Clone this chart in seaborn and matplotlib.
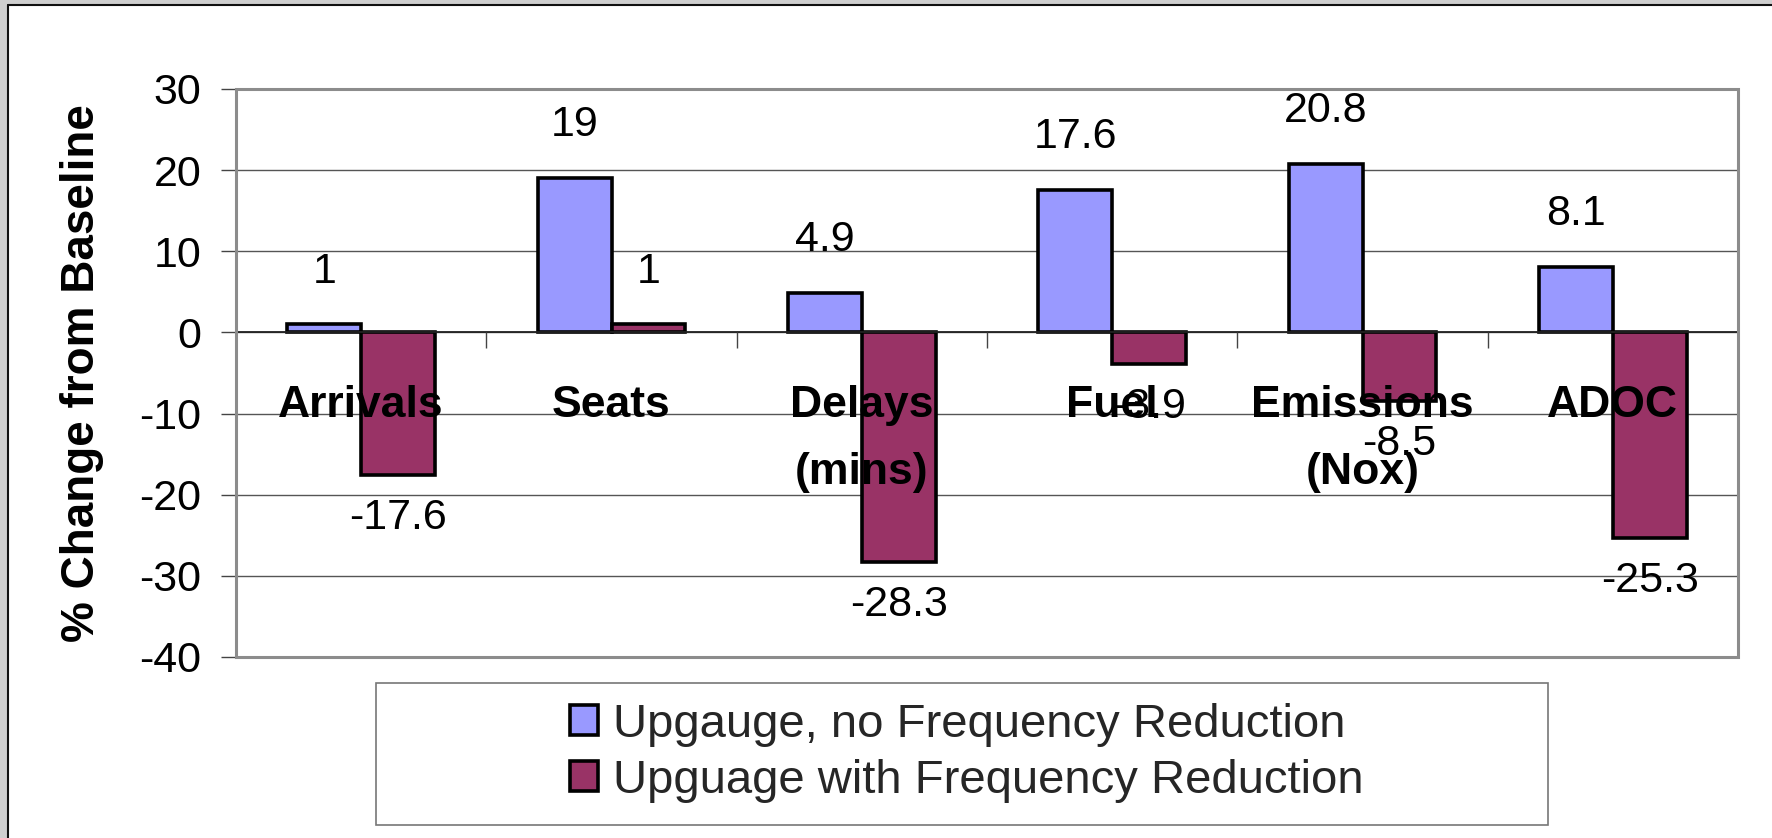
import numpy as np
import pandas as pd
import matplotlib
matplotlib.use("Agg")
import matplotlib.pyplot as plt
from matplotlib.patches import Rectangle
from matplotlib.lines import Line2D
import seaborn as sns

# ---- data ----
categories = ["Arrivals", "Seats", "Delays\n(mins)", "Fuel", "Emissions\n(Nox)", "ADOC"]
upgauge_no_freq = [1, 19, 4.9, 17.6, 20.8, 8.1]
upgauge_with_freq = [-17.6, 1, -28.3, -3.9, -8.5, -25.3]
series_names = ["Upgauge, no Frequency Reduction", "Upguage with Frequency Reduction"]
y_ticks = [30, 20, 10, 0, -10, -20, -30, -40]
y_title = "% Change from Baseline"

df = pd.DataFrame({
    "category": categories * 2,
    "value": upgauge_no_freq + upgauge_with_freq,
    "series": [series_names[0]] * len(categories) + [series_names[1]] * len(categories),
})

sns.set_theme(style="white")
plt.rcParams["font.family"] = ["Liberation Sans", "DejaVu Sans"]
plt.rcParams["axes.unicode_minus"] = False

W, H = 1772, 838
fig = plt.figure(figsize=(W / 100, H / 100), dpi=100)
fig.patch.set_facecolor("white")

# plot area (pixel box)
px0, px1, py0, py1 = 236, 1738, 89, 657
ax = fig.add_axes([px0 / W, 1 - py1 / H, (px1 - px0) / W, (py1 - py0) / H])
ax.set_facecolor("white")

colors = ["#9999FF", "#993366"]
palette = dict(zip(series_names, colors))
sns.barplot(data=df, x="category", y="value", hue="series", order=categories,
            hue_order=series_names, palette=palette, width=0.59, saturation=1,
            edgecolor="black", linewidth=2.6, errorbar=None, ax=ax, legend=False)

ax.set_axisbelow(False)
ax.set_xlim(-0.5, len(categories) - 0.5)
ax.set_ylim(min(y_ticks), max(y_ticks))
ax.set_yticks(y_ticks)
ax.set_xlabel("")
ax.set_ylabel("")

# horizontal gridlines behind the bars
for t in y_ticks:
    ax.axhline(t, color="#555555", lw=1.0, zorder=0.5)

# spines: category axis sits on zero
for s in ["top", "right"]:
    ax.spines[s].set_visible(False)
ax.spines["bottom"].set_position(("data", 0))
ax.spines["bottom"].set_color("#222222")
ax.spines["bottom"].set_linewidth(1.3)
ax.spines["left"].set_color("#666666")
ax.spines["left"].set_linewidth(2.0)
ax.add_patch(Rectangle((0, 0), 1, 1, transform=ax.transAxes, fill=False,
                       edgecolor="#8c8c8c", lw=2.2, clip_on=False, zorder=3))

ax.tick_params(axis="y", which="major", direction="out", left=True, length=11,
               width=1, color="#444444", pad=14, labelsize=31, labelcolor="black")
ax.tick_params(axis="x", which="major", bottom=True, length=0, pad=38,
               labelsize=32, labelcolor="black")
ax.set_xticks(np.arange(-0.5, len(categories), 1), minor=True)
ax.tick_params(axis="x", which="minor", direction="out", bottom=True, length=11.5,
               width=1, color="#444444")
for lab in ax.get_xticklabels():
    lab.set_fontweight("bold")
    lab.set_linespacing(1.8)
    lab.set_zorder(6)

# value labels
for container, vals in zip(ax.containers, [upgauge_no_freq, upgauge_with_freq]):
    for patch, v in zip(container.patches, vals):
        ax.annotate(f"{v:g}", xy=(patch.get_x() + patch.get_width() / 2, v),
                    xytext=(0, 38 if v >= 0 else -31), textcoords="offset points",
                    ha="center", va="center", fontsize=31, color="black", zorder=5)

# y-axis title
fig.text(82 / W, 1 - 373 / H, y_title, rotation=90, ha="center", va="center",
         fontsize=33, fontweight="bold", color="black")

# legend
handles = [Rectangle((0, 0), 1, 1, facecolor=c, edgecolor="black", lw=2.6) for c in colors]
fig.legend(handles, series_names, loc="center", bbox_to_anchor=(967 / W, 1 - 753 / H),
           frameon=False, fontsize=34, handlelength=0.6, handleheight=0.6,
           handletextpad=0.32, labelspacing=0.25, borderpad=0)
fig.add_artist(Rectangle((376 / W, 1 - 825 / H), (1548 - 376) / W, (825 - 683) / H,
                         transform=fig.transFigure, fill=False, edgecolor="#777777", lw=1.2))

# outer frame
fig.add_artist(Rectangle((0, 0), 7 / W, 1, transform=fig.transFigure,
                         facecolor="#cfcfcf", edgecolor="none"))
fig.add_artist(Rectangle((0, 1 - 5 / H), 1, 5 / H, transform=fig.transFigure,
                         facecolor="#cfcfcf", edgecolor="none"))
fig.add_artist(Line2D([7.5 / W, 7.5 / W], [0, 1 - 5.5 / H], color="#111111", lw=1.5,
                      transform=fig.transFigure))
fig.add_artist(Line2D([7.5 / W, 1], [1 - 5.5 / H, 1 - 5.5 / H], color="#111111", lw=1.5,
                      transform=fig.transFigure))

fig.savefig("out.png", dpi=100)
